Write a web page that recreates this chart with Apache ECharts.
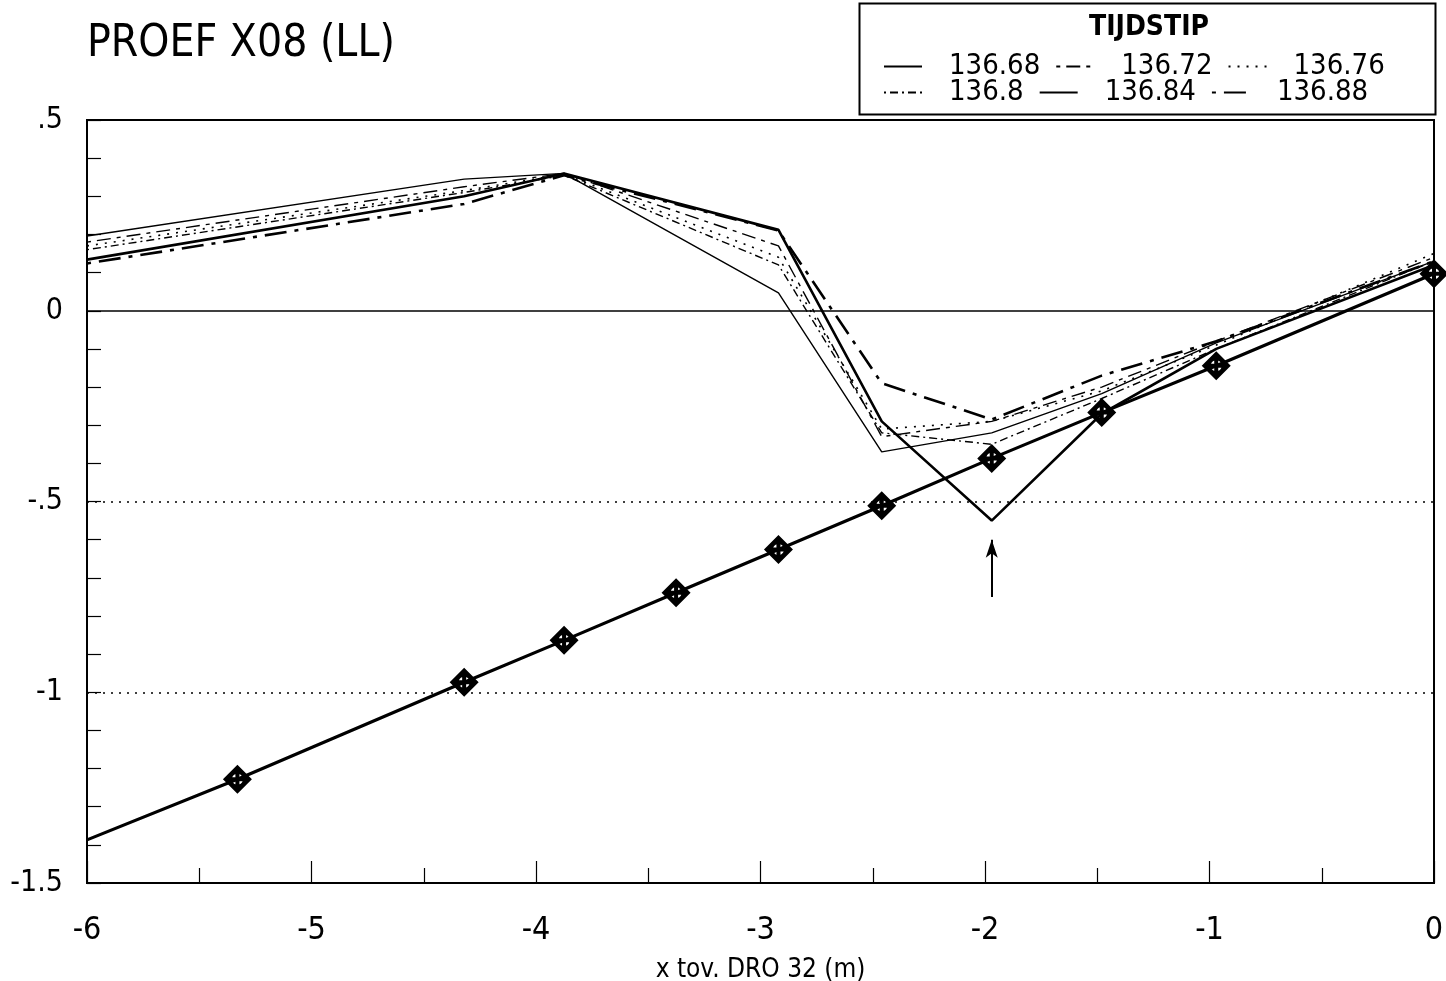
<!DOCTYPE html>
<html>
<head>
<meta charset="utf-8">
<script src="https://cdn.jsdelivr.net/npm/echarts@6/dist/echarts.min.js"></script>
<style>
html,body{margin:0;padding:0;background:#fff;}
#chart{width:1446px;height:981px;}
</style>
</head>
<body>
<div id="chart"></div>
<script>
// ---- data ----
const xPos = [-6, -4.32, -3.875, -2.92, -2.46, -1.97, -1.48, -0.97, 0];
const s13668 = [0.196, 0.345, 0.36, 0.047, -0.37, -0.32, -0.217, -0.084, 0.13];
const s13672 = [0.18, 0.325, 0.36, 0.17, -0.33, -0.29, -0.2, -0.08, 0.14];
const s13676 = [0.17, 0.315, 0.358, 0.14, -0.31, -0.29, -0.21, -0.09, 0.15];
const s13680 = [0.16, 0.31, 0.355, 0.12, -0.32, -0.35, -0.23, -0.1, 0.13];
const s13684 = [0.134, 0.30, 0.36, 0.212, -0.29, -0.55, -0.27, -0.1, 0.12];
const s13688 = [0.124, 0.28, 0.355, 0.21, -0.19, -0.285, -0.17, -0.08, 0.13];
const seriesNames = ['136.68', '136.72', '136.76', '136.8', '136.84', '136.88'];

const bedX = [-6, -5.33, -4.32, -3.875, -3.376, -2.92, -2.46, -1.97, -1.48, -0.97, 0];
const bedY = [-1.387, -1.228, -0.974, -0.864, -0.739, -0.626, -0.511, -0.387, -0.267, -0.144, 0.097];

const refLevels = [0, -0.5, -1];
const arrowX = -1.97, arrowFrom = -0.75, arrowTo = -0.6;

const xTicks = [-6, -5, -4, -3, -2, -1, 0];

// ---- chart ----
const FONT = "'Liberation Sans Narrow', 'DejaVu Sans Condensed', sans-serif";
const chart = echarts.init(document.getElementById('chart'));

function pairs(xs, ys) { return xs.map((x, i) => [x, ys[i]]); }

// marker: black diamond with a small white ring hole crossed by a thick black cross
function markerPath() {
  let p = 'path://M0,-13 L13,0 L0,13 L-13,0 Z ';
  const r = 5, n = 20;
  for (let k = 0; k <= n; k++) {
    const a = -Math.PI / 2 - (2 * Math.PI * k) / n; // counterclockwise -> hole
    const px = (r * Math.cos(a)).toFixed(2), py = (r * Math.sin(a)).toFixed(2);
    p += (k === 0 ? 'M' : 'L') + px + ',' + py + ' ';
  }
  p += 'Z M-1.8,-5 L1.8,-5 L1.8,5 L-1.8,5 Z M-5,-1.8 L5,-1.8 L5,1.8 L-5,1.8 Z';
  return p;
}
const diamond = markerPath();

const styles = [
  { width: 1.4, type: 'solid' },
  { width: 1.4, type: [4, 6, 14, 6] },
  { width: 1.6, type: [2, 7] },
  { width: 1.4, type: [2, 4, 8, 4] },
  { width: 2.6, type: 'solid' },
  { width: 2.6, type: [4, 8, 22, 8] }
];
const ys = [s13668, s13672, s13676, s13680, s13684, s13688];

const lineSeries = seriesNames.map((n, i) => ({
  name: n,
  type: 'line',
  data: pairs(xPos, ys[i]),
  symbol: 'none',
  lineStyle: { color: '#000', width: styles[i].width, type: styles[i].type },
  itemStyle: { color: '#000' },
  z: 3
}));

const bedPts = pairs(bedX, bedY);

const refLines = refLevels.map(v => ({
  yAxis: v,
  lineStyle: v === 0 ? { type: 'solid', width: 1.5 } : { type: [2, 6], width: 1.5 }
}));

const legendBase = {
  left: 878, orient: 'horizontal',
  itemWidth: 38, itemHeight: 14, itemGap: 15,
  itemStyle: { color: 'rgba(0,0,0,0)', borderColor: 'rgba(0,0,0,0)', borderWidth: 0 },
  textStyle: { fontFamily: FONT, fontSize: 29, color: '#000', width: 90, padding: [0, 0, 0, 22] }
};

const option = {
  animation: false,
  backgroundColor: '#fff',
  title: [
    { text: 'PROEF X08 (LL)', left: 82, top: 18,
      textStyle: { fontFamily: FONT, fontSize: 44, fontWeight: 'normal', color: '#000' } },
    { text: 'TIJDSTIP', left: 1144, top: 9, textAlign: 'center',
      textStyle: { fontFamily: FONT, fontSize: 28, fontWeight: 'bold', color: '#000' } }
  ],
  graphic: [
    { type: 'rect', left: 857, top: 1, shape: { width: 576, height: 111 },
      style: { fill: 'none', stroke: '#000', lineWidth: 2 } }
  ],
  legend: [
    Object.assign({ data: seriesNames.slice(0, 3), top: 47 }, legendBase),
    Object.assign({ data: seriesNames.slice(3, 6), top: 73 }, legendBase)
  ],
  grid: { left: 87, right: 12, top: 120, bottom: 98, outerBoundsMode: 'none', containLabel: false,
    show: true, borderColor: '#000', borderWidth: 2 },
  xAxis: {
    type: 'value', min: -6, max: 0, interval: 1,
    name: 'x tov. DRO 32 (m)', nameLocation: 'middle', nameGap: 74,
    nameTextStyle: { fontFamily: FONT, fontSize: 26, color: '#000' },
    axisLine: { onZero: false, lineStyle: { color: '#000', width: 2 } },
    axisTick: { inside: true, length: 22, lineStyle: { color: '#000', width: 1.2 } },
    minorTick: { show: true, splitNumber: 2, length: 15, lineStyle: { color: '#000', width: 1.2 } },
    axisLabel: { fontFamily: FONT, fontSize: 32, color: '#000', margin: 32,
      formatter: v => xTicks.includes(v) ? String(v) : '' },
    splitLine: { show: false }
  },
  yAxis: {
    type: 'value', min: -1.5, max: 0.5, interval: 0.5,
    axisLine: { show: true, onZero: false, lineStyle: { color: '#000', width: 2 } },
    axisTick: { inside: true, length: 14, lineStyle: { color: '#000', width: 1.2 } },
    minorTick: { show: true, splitNumber: 5, length: 14, lineStyle: { color: '#000', width: 1.2 } },
    axisLabel: { fontFamily: FONT, fontSize: 30, color: '#000', margin: 24,
      formatter: v => v === 0 ? '0' : String(v).replace('0.', '.') },
    splitLine: { show: false }
  },
  series: [
    {
      name: 'bed', type: 'line', data: bedPts,
      symbol: 'none',
      lineStyle: { color: '#000', width: 3.2 },
      z: 2,
      markLine: {
        silent: true, symbol: ['none', 'none'],
        label: { show: false },
        lineStyle: { color: '#000' },
        data: refLines.concat([[
          { coord: [arrowX, arrowFrom], symbol: 'none', lineStyle: { type: 'solid', width: 2 } },
          { coord: [arrowX, arrowTo], symbol: 'arrow', symbolSize: [9, 18] }
        ]])
      }
    },
    {
      name: 'bedMarkers', type: 'scatter', data: bedPts.slice(1),
      symbol: diamond, symbolSize: 29, symbolKeepAspect: true,
      itemStyle: { color: '#000', borderWidth: 0, opacity: 1 },
      z: 4
    }
  ].concat(lineSeries)
};
chart.setOption(option);
</script>
</body>
</html>
